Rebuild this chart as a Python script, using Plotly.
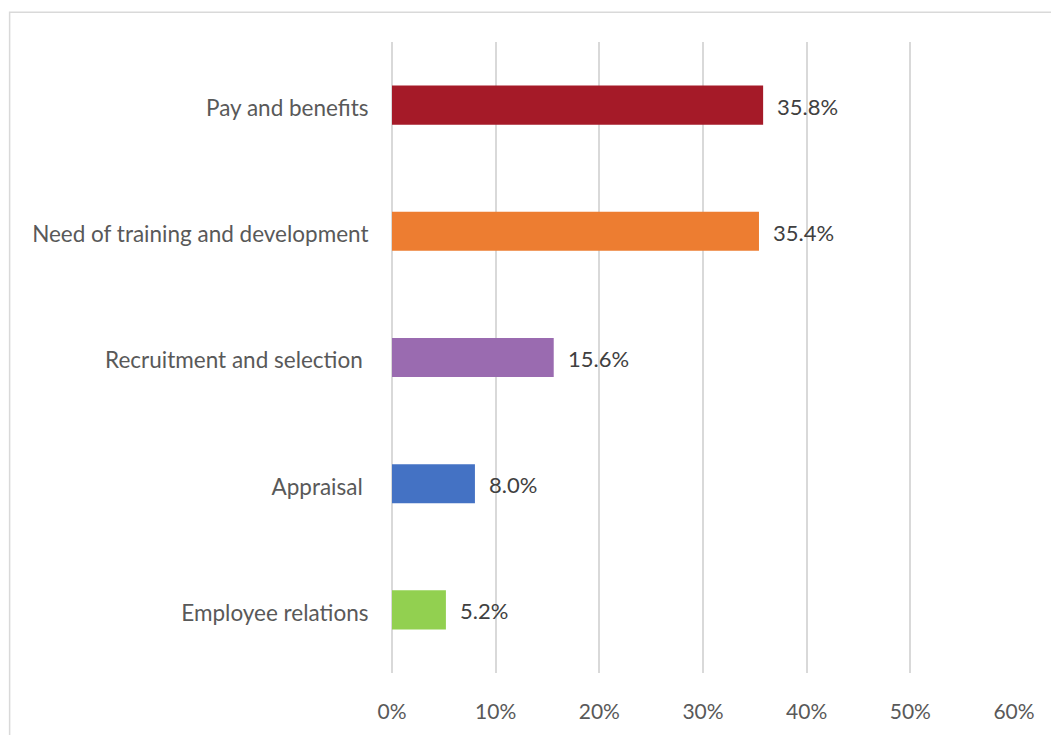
import plotly.graph_objects as go

# Survey results: share of respondents per HR area
categories = [
    "Pay and benefits",
    "Need of training and development",
    "Recruitment and selection\u00a0",
    "Appraisal\u00a0",
    "Employee relations",
]
values = [35.8, 35.4, 15.6, 8.0, 5.2]
colors = ["#A51A28", "#ED7D31", "#9A6BB0", "#4472C4", "#92D050"]
tick_vals = [0, 10, 20, 30, 40, 50, 60]
tick_text = ["0%", "10%", "20%", "30%", "40%", "50%", "60%"]

FONT = "Lato, 'Open Sans', sans-serif"
W, H = 1051, 735
ML, MR, MT, MB = 391.5, 37.3, 42, 59
pw, ph = W - ML - MR, H - MT - MB

fig = go.Figure(
    go.Bar(
        x=values,
        y=categories,
        orientation="h",
        marker=dict(color=colors, line=dict(width=0)),
        hoverinfo="skip",
    )
)

# value labels to the right of each bar
for cat, val in zip(categories, values):
    fig.add_annotation(
        x=val, y=cat, text=f"{val:.1f}%", showarrow=False,
        xanchor="left", xshift=12, yshift=-1,
        font=dict(family=FONT, size=22, color="#404040"),
    )

# light outer frame of the chart area
fig.add_shape(
    type="rect", xref="paper", yref="paper",
    x0=(9 - ML) / pw, x1=(1060 - ML) / pw,
    y0=(H - MB - 745) / ph, y1=(H - MB - 12) / ph,
    line=dict(color="#D9D9D9", width=1.5), fillcolor="rgba(0,0,0,0)",
    layer="below",
)

fig.update_layout(
    width=W, height=H,
    margin=dict(l=ML, r=MR, t=MT, b=MB, pad=0),
    paper_bgcolor="white", plot_bgcolor="white",
    bargap=0.69, showlegend=False,
    font=dict(family=FONT, size=20, color="#595959"),
    xaxis=dict(
        range=[0, 60], tickvals=tick_vals, ticktext=tick_text,
        showgrid=True, gridcolor="#D9D9D9", gridwidth=1.5,
        zeroline=True, zerolinecolor="#D9D9D9", zerolinewidth=1.5,
        showline=False, ticks="outside", ticklen=20, tickcolor="rgba(0,0,0,0)",
        tickfont=dict(family=FONT, size=21, color="#595959"), fixedrange=True,
    ),
    yaxis=dict(
        categoryorder="array", categoryarray=categories[::-1],
        showgrid=False, zeroline=False, showline=False,
        ticks="outside", ticklen=18, tickcolor="rgba(0,0,0,0)",
        ticklabelshift=3,
        tickfont=dict(family=FONT, size=22.5, color="#595959"), fixedrange=True,
    ),
)

fig.write_html("out.html")
